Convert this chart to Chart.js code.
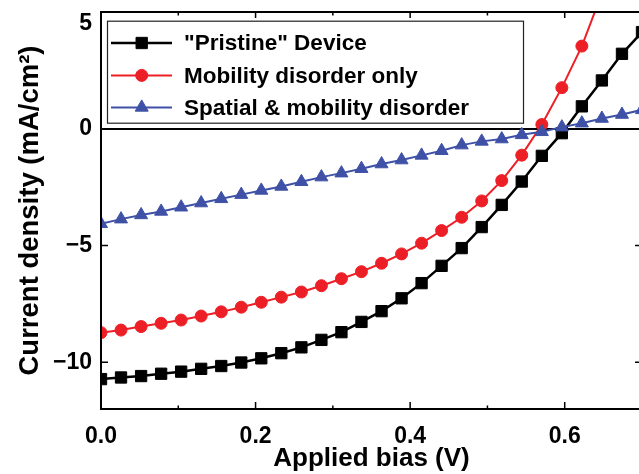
<!DOCTYPE html>
<html><head><meta charset="utf-8">
<script src="https://cdn.jsdelivr.net/npm/chart.js@4.4.1/dist/chart.umd.min.js"></script>
<style>
html,body{margin:0;padding:0;overflow:hidden;background:#fff}
#wrap{position:absolute;left:0;top:0;width:642px;height:474px}
</style>
</head><body>
<div id="wrap"><canvas id="c" width="642" height="474"></canvas></div>
<script>
// ---- data ----
const biasV = [0, 0.0259, 0.0519, 0.0778, 0.1037, 0.1296, 0.1556, 0.1815, 0.2074, 0.2333,
  0.2593, 0.2852, 0.3111, 0.3370, 0.3630, 0.3889, 0.4148, 0.4407, 0.4667, 0.4926,
  0.5185, 0.5444, 0.5704, 0.5963, 0.6222, 0.6481, 0.6741, 0.7];
const pristine = [-10.72, -10.65, -10.59, -10.49, -10.40, -10.28, -10.16, -10.01, -9.83, -9.61,
  -9.36, -9.04, -8.71, -8.27, -7.81, -7.26, -6.61, -5.87, -5.11, -4.21,
  -3.26, -2.26, -1.16, -0.19, 0.96, 2.07, 3.21, 4.14];
const mobilityOnly = [-8.73, -8.62, -8.47, -8.33, -8.19, -8.02, -7.84, -7.64, -7.43, -7.21,
  -6.99, -6.72, -6.42, -6.12, -5.76, -5.36, -4.90, -4.36, -3.79, -3.09,
  -2.22, -1.13, 0.18, 1.76, 3.54, 5.8];
const spatialMobility = [-4.07, -3.87, -3.69, -3.54, -3.36, -3.18, -3.00, -2.82, -2.64, -2.47,
  -2.27, -2.07, -1.90, -1.71, -1.51, -1.34, -1.14, -0.94, -0.70, -0.54,
  -0.44, -0.26, -0.13, 0.07, 0.24, 0.44, 0.61, 0.81];
const seriesLabels = ['"Pristine" Device', 'Mobility disorder only', 'Spatial & mobility disorder'];
const xTickValues = [0, 0.2, 0.4, 0.6];
const xTickLabels = ['0.0', '0.2', '0.4', '0.6'];
const xMinorTickValues = [0.1, 0.3, 0.5];
const yTickValues = [-10, -5, 0, 5];
const yTickLabels = ['\u221210', '\u22125', '0', '5'];
const xTitle = 'Applied bias (V)';
const yTitle = 'Current density (mA/cm\u00B2)';

// ---- styles ----
const FONT = "'Liberation Sans', Arial, Helvetica, sans-serif";
const colors = ['#000000', '#ED1F26', '#3F51A6'];
const styles = ['rect', 'circle', 'triangle'];
const radii = [8, 6, 7.5];
const lineW = [2.5, 2, 2];

function pts(vals) { return vals.map((v, i) => ({x: biasV[i], y: v})); }
const series = [pristine, mobilityOnly, spatialMobility];

const datasets = series.map((s, k) => ({
  label: seriesLabels[k],
  data: pts(s),
  borderColor: colors[k],
  backgroundColor: colors[k],
  pointBackgroundColor: colors[k],
  pointBorderColor: colors[k],
  pointStyle: styles[k],
  pointRadius: radii[k],
  pointBorderWidth: 1,
  borderWidth: lineW[k],
  tension: 0,
  order: 2 - k
}));

const framePlugin = {
  id: 'frame',
  afterDraw(chart) {
    const {ctx, chartArea: {left, right, top, bottom}, scales: {x, y}} = chart;
    ctx.save();
    ctx.strokeStyle = '#000';
    ctx.lineWidth = 2;
    ctx.strokeRect(left, top, right - left, bottom - top);
    ctx.lineWidth = 1.5;
    ctx.beginPath();
    xTickValues.forEach(v => {
      const px = x.getPixelForValue(v);
      ctx.moveTo(px, bottom); ctx.lineTo(px, bottom - 7);
      ctx.moveTo(px, top); ctx.lineTo(px, top + 6);
    });
    xMinorTickValues.forEach(v => {
      const px = x.getPixelForValue(v);
      ctx.moveTo(px, bottom); ctx.lineTo(px, bottom - 3.5);
      ctx.moveTo(px, top); ctx.lineTo(px, top + 3.5);
    });
    yTickValues.forEach(v => {
      const py = y.getPixelForValue(v);
      ctx.moveTo(left, py); ctx.lineTo(left + 7, py);
      ctx.moveTo(right, py); ctx.lineTo(right - 7, py);
    });
    ctx.stroke();
    ctx.restore();
  }
};

const legendPlugin = {
  id: 'boxLegend',
  afterDraw(chart) {
    const {ctx, chartArea: {left, top}} = chart;
    const bx = left + 6, by = top + 8.7, bw = 416, bh = 102;
    const rows = [22.3, 54.7, 86.7];
    ctx.save();
    ctx.fillStyle = '#fff';
    ctx.fillRect(bx, by, bw, bh);
    ctx.strokeStyle = '#222';
    ctx.lineWidth = 1.2;
    ctx.strokeRect(bx + 0.5, by + 0.5, bw, bh);
    chart.data.datasets.forEach((ds, k) => {
      const cy = by + rows[k];
      ctx.strokeStyle = ds.borderColor;
      ctx.lineWidth = ds.borderWidth;
      ctx.beginPath();
      ctx.moveTo(bx + 4, cy); ctx.lineTo(bx + 65, cy);
      ctx.stroke();
      ctx.fillStyle = ds.pointBackgroundColor;
      ctx.strokeStyle = ds.pointBorderColor;
      ctx.lineWidth = ds.pointBorderWidth;
      Chart.helpers.drawPoint(ctx, {pointStyle: ds.pointStyle, radius: ds.pointRadius, rotation: 0, borderWidth: ds.pointBorderWidth}, bx + 34.7, cy);
      ctx.fillStyle = '#000';
      ctx.font = 'bold 22.5px ' + FONT;
      ctx.textBaseline = 'middle';
      ctx.textAlign = 'left';
      ctx.fillText(ds.label, bx + 77, cy + 1);
    });
    ctx.restore();
  }
};

new Chart(document.getElementById('c'), {
  type: 'line',
  data: {datasets},
  options: {
    responsive: false,
    animation: false,
    devicePixelRatio: 1,
    layout: {autoPadding: false, padding: {top: 12, left: 0, right: 0, bottom: 0}},
    plugins: {legend: {display: false}, tooltip: {enabled: false}},
    scales: {
      x: {
        type: 'linear', min: 0, max: 0.7,
        afterBuildTicks: s => { s.ticks = xTickValues.map(v => ({value: v})); },
        afterFit: s => { s.height = 65; s.paddingLeft = 0; s.paddingRight = 0; },
        grid: {display: false, drawTicks: false},
        border: {display: false},
        ticks: {
          callback: (v, i) => xTickLabels[i],
          font: {family: FONT, size: 23, weight: 'bold', lineHeight: 1},
          color: '#000', padding: 16, maxRotation: 0, autoSkip: false
        },
        title: {display: true, text: xTitle, color: '#000',
          font: {family: FONT, size: 26, weight: 'bold'}, padding: {top: 0, bottom: 0}}
      },
      y: {
        type: 'linear', min: -12, max: 5,
        afterBuildTicks: s => { s.ticks = yTickValues.map(v => ({value: v})); },
        afterFit: s => { s.width = 101; s.paddingTop = 0; s.paddingBottom = 0; },
        grid: {drawTicks: false, lineWidth: 2,
          color: c => (c.tick && c.tick.value === 0) ? '#000' : 'rgba(0,0,0,0)'},
        border: {display: false},
        ticks: {
          callback: (v, i) => (v === 5 ? ['', yTickLabels[i]] : yTickLabels[i]),
          font: {family: FONT, size: 23, weight: 'bold', lineHeight: 1},
          color: '#000', padding: 9, autoSkip: false
        },
        title: {display: true, text: yTitle, color: '#000',
          font: {family: FONT, size: 27.5, weight: 'bold'}, padding: {top: 13.5, bottom: 0}}
      }
    }
  },
  plugins: [framePlugin, legendPlugin]
});
</script>
</body></html>
